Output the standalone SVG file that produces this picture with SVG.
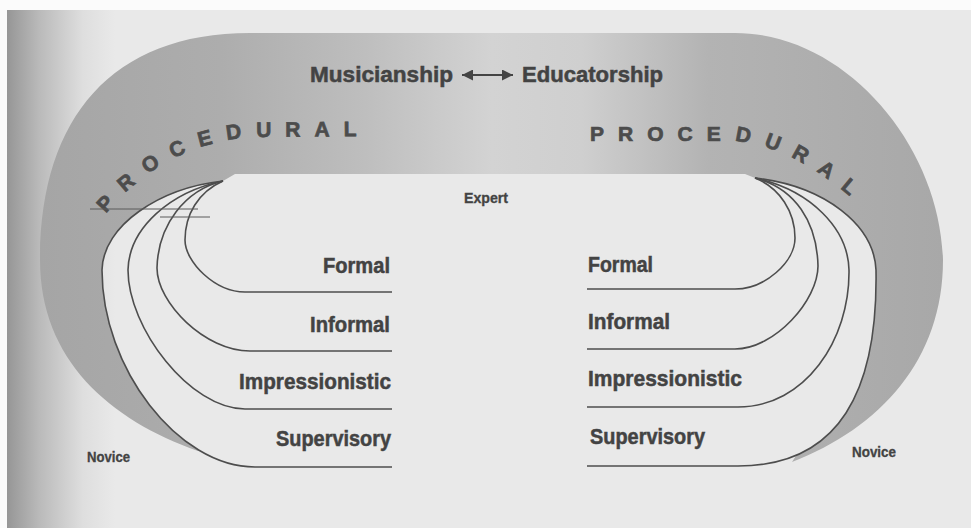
<svg xmlns="http://www.w3.org/2000/svg" width="971" height="528" viewBox="0 0 971 528">
  <defs>
    <!-- page shading: darker toward the binding on the left -->
    <linearGradient id="pageShade" gradientUnits="userSpaceOnUse" x1="7" y1="0" x2="115" y2="0">
      <stop offset="0" stop-color="#969696"/>
      <stop offset="0.3" stop-color="#bababa"/>
      <stop offset="0.7" stop-color="#dedede"/>
      <stop offset="1" stop-color="#e9e9e9"/>
    </linearGradient>
    <!-- tone of the procedural band: darker at the sides, light at the top centre -->
    <linearGradient id="bandTone" gradientUnits="userSpaceOnUse" x1="40" y1="0" x2="943" y2="0">
      <stop offset="0" stop-color="#a5a5a5"/>
      <stop offset="0.2" stop-color="#adadad"/>
      <stop offset="0.36" stop-color="#bebebe"/>
      <stop offset="0.5" stop-color="#d3d3d3"/>
      <stop offset="0.6" stop-color="#cfcfcf"/>
      <stop offset="0.74" stop-color="#b3b3b3"/>
      <stop offset="1" stop-color="#a8a8a8"/>
    </linearGradient>
    <marker id="head" viewBox="0 0 10 10" refX="10" refY="5" markerUnits="userSpaceOnUse" markerWidth="13" markerHeight="11" orient="auto-start-reverse">
      <path d="M0,0 L10,5 L0,10 z" fill="#444444"/>
    </marker>
    <path id="procL" d="M 95,228 C 130,180 175,145 250,137 L 380,136"/>
    <path id="procR" d="M 580,141 L 725,141 C 770,141 815,165 860,205"/>
  </defs>
  <style>
    .lbl { font-family: "Liberation Sans", Arial, sans-serif; font-weight: bold; fill: #434343; stroke: #434343; stroke-width: 0.5px; }
    .big { font-size: 22px; }
    .small { font-size: 14px; stroke-width: 0.3px; }
    .proc { font-family: "Liberation Sans", Arial, sans-serif; font-weight: bold; font-size: 21px; fill: #4c4c4c; stroke: #4c4c4c; stroke-width: 0.7px; letter-spacing: 14px; }
    .level { fill: none; stroke: #4d4d4d; stroke-width: 1.6; }
    .hair { fill: none; stroke: #5a5a5a; stroke-width: 1; }
  </style>

  <!-- page -->
  <rect x="0" y="0" width="971" height="528" fill="#fbfbfb"/>
  <rect x="7" y="10" width="964" height="518" fill="#e9e9e9"/>
  <rect x="7" y="10" width="115" height="518" fill="url(#pageShade)"/>

  <!-- procedural band -->
  <g id="band">
    <path fill="url(#bandTone)" d="M 198,451 C 110,420 40,360 40,260 C 40,120 110,33 250,33 L 735,33 C 845,33 940,145 943,260 C 943,360 880,428 792,462 L 796.3,455.3 C 854.78,430.43 877.56,363.6 876,270 C 874,225 825,186 755,178 L 745,174 L 235,174 L 223,181 C 160,188 103,225 102,270 C 102,343.5 144.75,417.56 198.6,450 Z"/>
    <text class="proc"><textPath href="#procL" startOffset="18">PROCEDURAL</textPath></text>
    <text class="proc"><textPath href="#procR" startOffset="10">PROCEDURAL</textPath></text>
  </g>

  <!-- poles -->
  <g id="musicianship">
    <text class="lbl big" x="310" y="82" textLength="143" lengthAdjust="spacingAndGlyphs">Musicianship</text>
  </g>
  <g id="educatorship">
    <text class="lbl big" x="522" y="82" textLength="141" lengthAdjust="spacingAndGlyphs">Educatorship</text>
  </g>

  <!-- stage labels -->
  <g id="expert">
    <text class="lbl small" x="464" y="203" textLength="44" lengthAdjust="spacingAndGlyphs">Expert</text>
  </g>
  <g id="novice-left">
    <text class="lbl small" x="87" y="462" textLength="43" lengthAdjust="spacingAndGlyphs">Novice</text>
  </g>
  <g id="novice-right">
    <text class="lbl small" x="852" y="457" textLength="44" lengthAdjust="spacingAndGlyphs">Novice</text>
  </g>

  <!-- levels, musicianship side -->
  <g id="formal-left">
    <path class="level" d="M 223,181 C 198,192 185,215 185,240 C 185,262 215,292 245,292 L 392,292"/>
    <text class="lbl big" x="390" y="273" text-anchor="end" textLength="67" lengthAdjust="spacingAndGlyphs">Formal</text>
  </g>
  <g id="informal-left">
    <path class="level" d="M 223,181 C 185,190 158,225 157,268 C 157,303 205,351 250,351 L 392,351"/>
    <text class="lbl big" x="390" y="332" text-anchor="end" textLength="80" lengthAdjust="spacingAndGlyphs">Informal</text>
  </g>
  <g id="impressionistic-left">
    <path class="level" d="M 223,181 C 170,192 129,228 128,270 C 128,328 190,409 245,409 L 392,409"/>
    <text class="lbl big" x="391" y="389" text-anchor="end" textLength="152" lengthAdjust="spacingAndGlyphs">Impressionistic</text>
  </g>
  <g id="supervisory-left">
    <path class="level" d="M 223,181 C 160,188 103,225 102,270 C 102,368 178,467 255,467 L 392,467"/>
    <text class="lbl big" x="391" y="446" text-anchor="end" textLength="115" lengthAdjust="spacingAndGlyphs">Supervisory</text>
  </g>

  <!-- levels, educatorship side -->
  <g id="formal-right">
    <path class="level" d="M 755,178 C 780,188 795,212 795,238 C 795,262 765,289 735,289 L 587,289"/>
    <text class="lbl big" x="588" y="272" textLength="65" lengthAdjust="spacingAndGlyphs">Formal</text>
  </g>
  <g id="informal-right">
    <path class="level" d="M 755,178 C 795,188 817,222 818,266 C 818,300 775,349 735,349 L 587,349"/>
    <text class="lbl big" x="588" y="329" textLength="82" lengthAdjust="spacingAndGlyphs">Informal</text>
  </g>
  <g id="impressionistic-right">
    <path class="level" d="M 755,178 C 810,190 848,228 849,270 C 850,340 805,407 738,407 L 587,407"/>
    <text class="lbl big" x="588" y="386" textLength="154" lengthAdjust="spacingAndGlyphs">Impressionistic</text>
  </g>
  <g id="supervisory-right">
    <path class="level" d="M 755,178 C 825,186 874,225 876,270 C 878,390 840,466 738,466 L 587,466"/>
    <text class="lbl big" x="590" y="444" textLength="115" lengthAdjust="spacingAndGlyphs">Supervisory</text>
  </g>

  <!-- connectors -->
  <g id="connectors">
    <line x1="462" y1="75" x2="513" y2="75" stroke="#444444" stroke-width="2" marker-start="url(#head)" marker-end="url(#head)"/>
    <line class="hair" x1="90" y1="209" x2="198" y2="209"/>
    <line class="hair" x1="160" y1="217" x2="210" y2="217"/>
  </g>
</svg>
